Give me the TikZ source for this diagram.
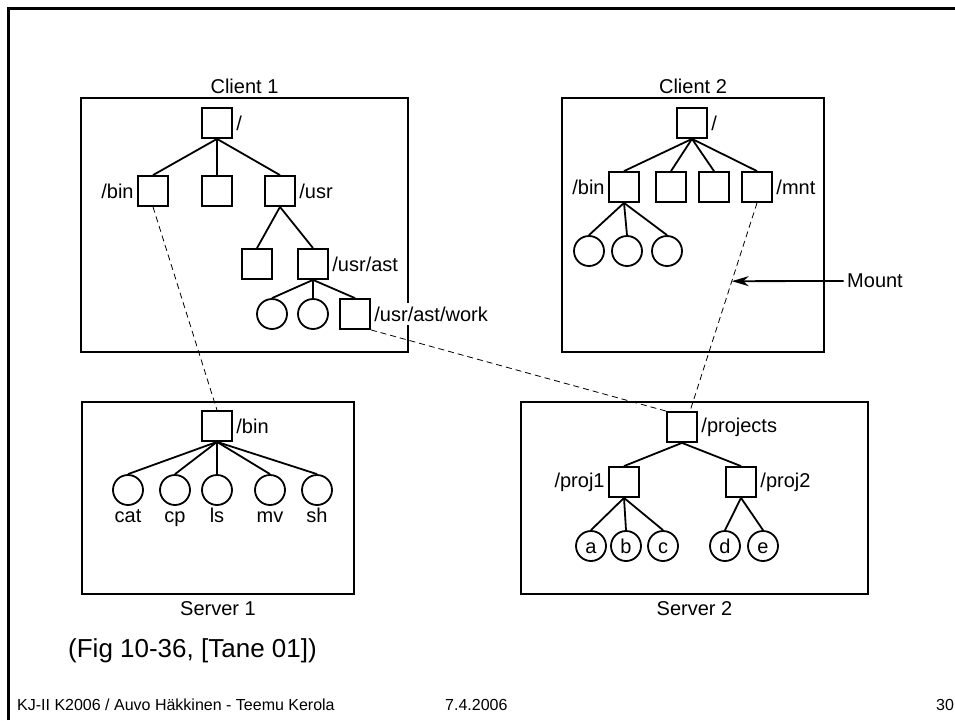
\documentclass[tikz,border=0pt]{standalone}
\usepackage{fontspec}
\setmainfont{Liberation Sans}
\usetikzlibrary{arrows.meta}

\tikzset{
  dir/.style={draw, line width=1.8pt, minimum size=30pt, inner sep=0pt},
  file/.style={circle, draw, line width=1.8pt, minimum size=30pt, inner sep=0pt},
  letter/.style={file, text height=14pt, text depth=0pt},
  machine/.style={draw, line width=1.8pt, inner sep=0pt},
  edge/.style={line width=1.8pt},
  mountline/.style={line width=0.8pt, dash pattern=on 6pt off 4pt},
  fname/.style={text height=14pt, text depth=4pt, inner sep=2pt},
  foot/.style={anchor=base west, inner sep=0pt, font=\fontsize{16}{19}\selectfont},
}

\begin{document}
\begin{tikzpicture}[x=1pt, y=-1pt, every node/.style={font=\fontsize{20}{24}\selectfont}]
    \useasboundingbox (0,0) rectangle (955,720);
    % slide frame
    \draw[line width=2.5pt] (8.5,720) -- (8.5,8.5) -- (955,8.5);

    % the four machines
    \node[machine, minimum width=327pt, minimum height=254pt, label=above:Client 1] (client1) at (244.5,225) {};
    \node[machine, minimum width=262pt, minimum height=254pt, label=above:Client 2] (client2) at (693,225) {};
    \node[machine, minimum width=272pt, minimum height=192pt, label={[label distance=3pt]below:Server 1}] (server1) at (218,498) {};
    \node[machine, minimum width=347pt, minimum height=192pt, label={[label distance=3pt]below:Server 2}] (server2) at (694.5,498) {};

    % client 1 tree
    \node[dir, label={right:/}] (c1root) at (217,123) {};
    \node[dir, label={left:/bin}] (c1bin) at (153,191) {};
    \node[dir] (c1mid) at (217,191) {};
    \node[dir, label={right:/usr}] (c1usr) at (280,191) {};
    \node[dir] (c1sub) at (257,264) {};
    \node[dir, label={right:/usr/ast}] (c1ast) at (313,264) {};
    \node[file] (c1f1) at (272,314) {};
    \node[file] (c1f2) at (313,314) {};
    \node[dir, label={[fill=white, inner ysep=4pt]right:/usr/ast/work}] (c1work) at (355,314) {};
    \foreach \c in {c1bin, c1mid, c1usr} \draw[edge] (c1root.south) -- (\c.north);
    \foreach \c in {c1sub, c1ast} \draw[edge] (c1usr.south) -- (\c.north);
    \foreach \c in {c1f1, c1f2, c1work} \draw[edge] (c1ast.south) -- (\c.north);

    % client 2 tree
    \node[dir, label={right:/}] (c2root) at (692,123) {};
    \node[dir, label={left:/bin}] (c2bin) at (624,187) {};
    \node[dir] (c2a) at (671,187) {};
    \node[dir] (c2b) at (714,187) {};
    \node[dir, label={right:/mnt}] (c2mnt) at (757,187) {};
    \foreach \x [count=\i] in {589, 627, 667} {
        \node[file] (c2f\i) at (\x,251) {};
        \draw[edge] (c2bin.south) -- (c2f\i.north);
    }
    \foreach \c in {c2bin, c2a, c2b, c2mnt} \draw[edge] (c2root.south) -- (\c.north);

    % server 1 tree
    \node[dir, label={right:/bin}] (s1bin) at (217,426) {};
    \foreach \x/\f in {128/cat, 175/cp, 217/ls, 270/mv, 317/sh} {
        \node[file, label={[fname]below:\f}] (s1\f) at (\x,490) {};
        \draw[edge] (s1bin.south) -- (s1\f.north);
    }

    % server 2 tree
    \node[dir, label={right:/projects}] (s2proj) at (682,427) {};
    \node[dir, label={left:/proj1}] (s2p1) at (624,482) {};
    \node[dir, label={right:/proj2}] (s2p2) at (741,482) {};
    \draw[edge] (s2proj.south) -- (s2p1.north);
    \draw[edge] (s2proj.south) -- (s2p2.north);
    \foreach \x/\f in {591/a, 626/b, 663/c} {
        \node[letter] (s2\f) at (\x,546) {\f};
        \draw[edge] (s2p1.south) -- (s2\f.north);
    }
    \foreach \x/\f in {725/d, 763/e} {
        \node[letter] (s2\f) at (\x,546) {\f};
        \draw[edge] (s2p2.south) -- (s2\f.north);
    }

    % mounts
    \draw[mountline] (c1bin.south) -- (s1bin.north);
    \draw[mountline] (c1work.south east) -- (s2proj.north west);
    \draw[mountline] (c2mnt.south) -- coordinate[pos=0.376] (mnt) ([xshift=8pt]s2proj.north);
    \node (mount) at (875,281) {Mount};
    \draw[edge, -{Stealth[length=17pt, width=10pt]}] (mount.west) -- (mnt);

    % caption and footer
    \node[anchor=base west, inner sep=0pt, font=\fontsize{26}{30}\selectfont] (caption) at (68,657) {(Fig 10-36, [Tane 01])};
    \node[foot] (author) at (17,710) {KJ-II K2006 / Auvo Häkkinen - Teemu Kerola};
    \node[foot] (date) at (445,710) {7.4.2006};
    \node[foot] (page) at (936,710) {30};
\end{tikzpicture}
\end{document}
